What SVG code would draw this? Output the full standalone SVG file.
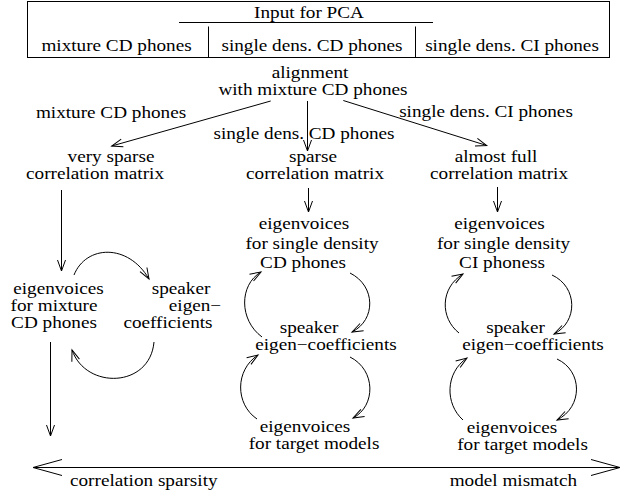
<svg xmlns="http://www.w3.org/2000/svg" width="624" height="492" viewBox="0 0 624 492" font-family="'Liberation Serif', 'DejaVu Serif', serif">
<style>
text{font-size:16px;fill:#000;text-anchor:middle}
.s{text-anchor:start}.e{text-anchor:end}
.ln{fill:none;stroke:#000;stroke-width:1}
.ar{fill:none;stroke:#000;stroke-width:1;marker-end:url(#ah)}
.big{fill:none;stroke:#000;stroke-width:1;marker-start:url(#bh);marker-end:url(#bh)}
</style>
<defs>
<marker id="ah" markerUnits="userSpaceOnUse" markerWidth="14" markerHeight="12" refX="11" refY="5" orient="auto" overflow="visible">
<path d="M0,1 L11,5 L0,9" fill="none" stroke="#000" stroke-width="1"/>
</marker>
<marker id="bh" markerUnits="userSpaceOnUse" markerWidth="32" markerHeight="20" refX="29" refY="9" orient="auto-start-reverse" overflow="visible">
<path d="M0,1 L29,9 L0,17" fill="none" stroke="#000" stroke-width="1"/>
</marker>
</defs>

<g id="input-box">
<rect class="ln" x="27.5" y="1.5" width="582" height="56"/>
<text transform="translate(309,18) scale(1.2,1)">Input for PCA</text>
<line class="ln" x1="179" y1="22.5" x2="433" y2="22.5"/>
<line class="ln" x1="208.5" y1="26.5" x2="208.5" y2="57.5"/>
<line class="ln" x1="415.5" y1="26.5" x2="415.5" y2="57.5"/>
<text transform="translate(116.5,50.5) scale(1.2,1)">mixture CD phones</text>
<text transform="translate(312,50.5) scale(1.2,1)">single dens. CD phones</text>
<text transform="translate(512,50.5) scale(1.2,1)">single dens. CI phones</text>
</g>

<g id="alignment">
<text transform="translate(310,78) scale(1.2,1)">alignment</text>
<text transform="translate(313,95) scale(1.2,1)">with mixture CD phones</text>
</g>

<g id="very-sparse">
<text transform="translate(111,162) scale(1.2,1)">very sparse</text>
<text transform="translate(95,178.5) scale(1.2,1)">correlation matrix</text>
</g>
<g id="sparse">
<text transform="translate(313,162) scale(1.2,1)">sparse</text>
<text transform="translate(315,178.5) scale(1.2,1)">correlation matrix</text>
</g>
<g id="almost-full">
<text transform="translate(496,162) scale(1.2,1)">almost full</text>
<text transform="translate(499,178.5) scale(1.2,1)">correlation matrix</text>
</g>

<g id="eig-mixture">
<text transform="translate(58.5,294) scale(1.2,1)">eigenvoices</text>
<text transform="translate(54,311) scale(1.2,1)">for mixture</text>
<text transform="translate(54,328) scale(1.2,1)">CD phones</text>
</g>
<g id="spk-left">
<text transform="translate(181,294) scale(1.2,1)">speaker</text>
<text transform="translate(195,311) scale(1.2,1)">eigen−</text>
<text transform="translate(168,328) scale(1.2,1)">coefficients</text>
</g>

<g id="eig-single-cd">
<text transform="translate(304,228.5) scale(1.2,1)">eigenvoices</text>
<text transform="translate(312,248.5) scale(1.2,1)">for single density</text>
<text transform="translate(303,267.5) scale(1.2,1)">CD phones</text>
</g>
<g id="spk-mid">
<text transform="translate(309,333) scale(1.2,1)">speaker</text>
<text transform="translate(326,350) scale(1.2,1)">eigen−coefficients</text>
</g>
<g id="target-mid">
<text transform="translate(305,432) scale(1.2,1)">eigenvoices</text>
<text transform="translate(314,449) scale(1.2,1)">for target models</text>
</g>

<g id="eig-single-ci">
<text transform="translate(499.5,228.5) scale(1.2,1)">eigenvoices</text>
<text transform="translate(503.5,248.5) scale(1.2,1)">for single density</text>
<text transform="translate(502,267.5) scale(1.2,1)">CI phoness</text>
</g>
<g id="spk-right">
<text transform="translate(515.5,333) scale(1.2,1)">speaker</text>
<text transform="translate(533,350) scale(1.2,1)">eigen−coefficients</text>
</g>
<g id="target-right">
<text transform="translate(512,433) scale(1.2,1)">eigenvoices</text>
<text transform="translate(522.5,450) scale(1.2,1)">for target models</text>
</g>

<g id="axis-labels">
<text class="s" transform="translate(70,486) scale(1.2,1)">correlation sparsity</text>
<text class="e" transform="translate(577,486) scale(1.2,1)">model mismatch</text>
</g>

<g id="connectors">
<line class="ar" x1="270.7" y1="101" x2="111.7" y2="146"/>
<line class="ar" x1="307.5" y1="101" x2="307.5" y2="151"/>
<line class="ar" x1="343.3" y1="100.5" x2="486.7" y2="145.5"/>
<text transform="translate(304,139) scale(1.2,1)">single dens.  CD phones</text>
<text transform="translate(111,118) scale(1.2,1)">mixture CD phones</text>
<text transform="translate(486,117) scale(1.2,1)">single dens. CI phones</text>

<line class="ar" x1="61.5" y1="190" x2="61.5" y2="271"/>
<line class="ar" x1="308.5" y1="188" x2="308.5" y2="212"/>
<line class="ar" x1="497.5" y1="187" x2="497.5" y2="212"/>
<line class="ar" x1="50.5" y1="342" x2="50.5" y2="436"/>

<path class="ar" d="M74,275 C86,245 128,243 149,279"/>
<path class="ar" d="M154,342 C150,388 86,390 72,350"/>

<path class="ar" d="M350,273 C376,286 376,320 352,332"/>
<path class="ar" d="M262,337 C239,320 239,285 261,272"/>
<path class="ar" d="M350,357 C376,370 376,406 353,418"/>
<path class="ar" d="M257,419 C235,404 235,370 258,355"/>

<path class="ar" d="M552,275 C578,287 578,322 554,334"/>
<path class="ar" d="M459,333 C440,318 440,288 463,274"/>
<path class="ar" d="M557,359 C583,371 583,407 557,420"/>
<path class="ar" d="M463,420 C445,404 445,373 467,358"/>

<line class="big" x1="33" y1="467.5" x2="620" y2="467.5"/>
</g>
</svg>
